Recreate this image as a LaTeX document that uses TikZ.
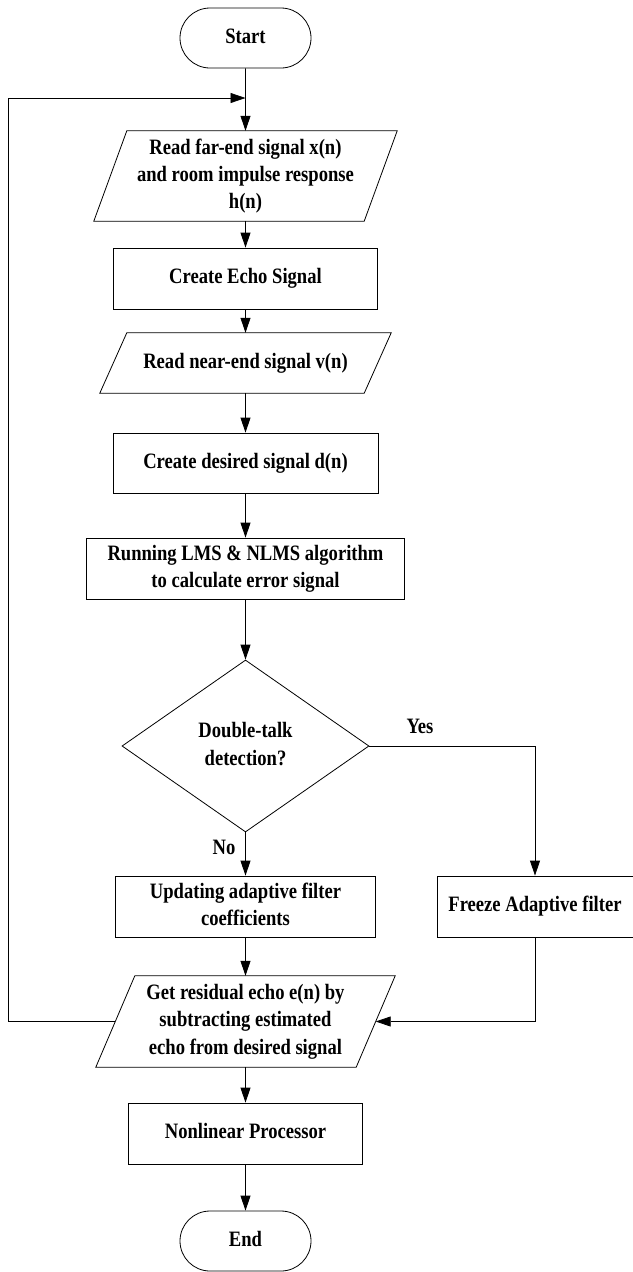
\documentclass[tikz,border=0pt]{standalone}
\usepackage{fontspec}
\setmainfont{Liberation Serif}
\usepackage{graphicx}
\usetikzlibrary{shapes.geometric,shapes.misc,arrows.meta,calc}
\newcommand{\tx}[1]{\scalebox{1}[1.18]{\begin{tabular}{@{}c@{}}#1\end{tabular}}}
\newcommand{\pgram}[2]{\draw[ln] ($(#1.south west)+(-#2/2,0)$) -- ($(#1.north west)+(#2/2,0)$) -- ($(#1.north east)+(#2/2,0)$) -- ($(#1.south east)+(-#2/2,0)$) -- cycle;}
\begin{document}
\begin{tikzpicture}[x=1pt,y=-1pt,
  every node/.style={font=\fontsize{18.6}{23}\selectfont\bfseries, inner sep=0pt},
  ln/.style={line width=0.8pt},
  box/.style={draw, rectangle, ln, minimum height=61pt},
  term/.style={draw, rounded rectangle, ln, minimum width=131pt, minimum height=60pt},
  para/.style={rectangle, minimum height=#1},
  decision/.style={draw, diamond, ln, minimum width=247pt, minimum height=172pt},
  arr/.style={ln, -{Triangle[length=15pt,width=10pt]}}]
\useasboundingbox (0,0) rectangle (632,1272);

\node[term] (start) at (245.5,38) {\tx{Start}};
\node[para=90pt, minimum width=270pt] (p1) at (245.5,176) {\tx{Read far-end signal x(n)\\and room impulse response\\h(n)}};
\node[box, minimum width=264pt] (echo) at (245.5,278.5) {\tx{Create Echo Signal}};
\node[para=60pt, minimum width=264pt] (p2) at (245.5,363) {\tx{Read near-end signal v(n)}};
\node[box, minimum width=265pt, minimum height=60pt] (des) at (245.5,463) {\tx{Create desired signal d(n)}};
\node[box, minimum width=318pt] (run) at (245.5,568.5) {\tx{Running LMS \& NLMS algorithm\\to calculate error signal}};
\node[decision] (dt) at (245.5,746) {\tx{Double-talk\\detection?}};
\node[box, minimum width=260pt] (upd) at (245.5,906.5) {\tx{Updating adaptive filter\\coefficients}};
\node[box, minimum width=196pt] (frz) at (535,906.5) {\tx{Freeze Adaptive filter}};
\node[para=91pt, minimum width=260pt] (p3) at (245.5,1021.5) {\tx{Get residual echo e(n) by\\subtracting estimated\\echo from desired signal}};
\node[box, minimum width=234pt] (nlp) at (245.5,1133.5) {\tx{Nonlinear Processor}};
\node[term] (end) at (245.5,1241) {\tx{End}};

\pgram{p1}{33}
\pgram{p2}{27}
\pgram{p3}{39}

\node (yes) at (420,728) {\tx{Yes}};
\node (no) at (224,849) {\tx{No}};

\coordinate (join) at (245.5,98);
\coordinate (lx) at (8,0);

\draw[arr] (start) -- (p1);
\draw[arr] (p1) -- (echo);
\draw[arr] (echo) -- (p2);
\draw[arr] (p2) -- (des);
\draw[arr] (des) -- (run);
\draw[arr] (run) -- (dt);
\draw[arr] (dt.south) -- (upd);
\draw[arr] (dt.east) -| (frz.north);
\draw[arr] (upd) -- (p3);
\draw[arr] (frz.south) |- (p3.east);
\draw[arr] (p3) -- (nlp);
\draw[arr] (nlp) -- (end);
\draw[arr] (p3.west) -- (p3.west -| lx) |- (join);
\end{tikzpicture}
\end{document}
